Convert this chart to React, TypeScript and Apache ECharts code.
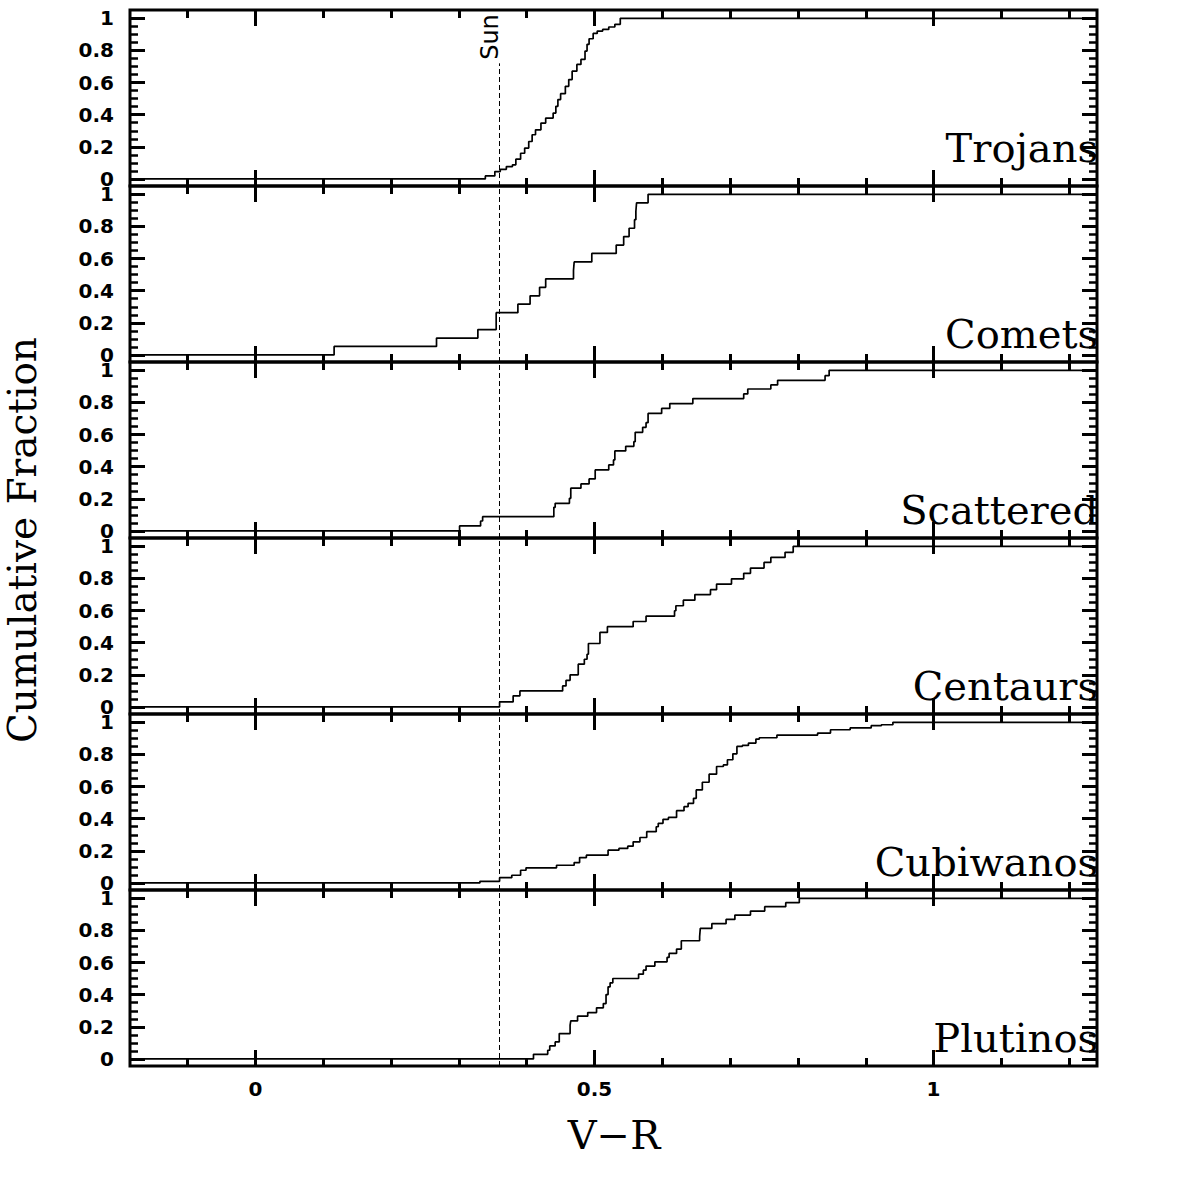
import { useEffect, useRef } from 'react';
import * as echarts from 'echarts';

// axis extents (V-R on x, cumulative fraction on y)
const X_MIN = -0.185;
const X_MAX = 1.241;
const Y_MIN = -0.044;
const Y_MAX = 1.052;

// solar colour and the top of its marker in the first panel
const SUN_VR = 0.36;
const SUN_LINE_TOP = 0.72;

const X_MAJOR = [0, 0.5, 1];
const X_MINOR = [-0.1, 0.1, 0.2, 0.3, 0.4, 0.6, 0.7, 0.8, 0.9, 1.1, 1.2];
const Y_MAJOR = [0, 0.2, 0.4, 0.6, 0.8, 1];
const Y_MINOR = [0.05, 0.1, 0.15, 0.25, 0.3, 0.35, 0.45, 0.5, 0.55, 0.65, 0.7, 0.75, 0.85, 0.9, 0.95];

const PANEL_NAMES = ['Trojans', 'Comets', 'Scattered', 'Centaurs', 'Cubiwanos', 'Plutinos'];

// step positions (V-R) and the cumulative fraction reached at each one
const TROJANS_VR = [0.339, 0.353, 0.361, 0.37, 0.379, 0.384, 0.391, 0.397, 0.403, 0.408, 0.413, 0.421, 0.428, 0.439, 0.443, 0.446, 0.45, 0.457, 0.462, 0.467, 0.474, 0.48, 0.486, 0.489, 0.492, 0.498, 0.504, 0.512, 0.521, 0.53, 0.538];
const TROJANS_CF = [0.019, 0.046, 0.06, 0.077, 0.088, 0.123, 0.16, 0.192, 0.233, 0.275, 0.306, 0.348, 0.379, 0.41, 0.452, 0.494, 0.531, 0.577, 0.619, 0.671, 0.713, 0.744, 0.796, 0.838, 0.873, 0.906, 0.921, 0.931, 0.946, 0.963, 1.0];

const COMETS_VR = [0.116, 0.267, 0.328, 0.355, 0.387, 0.405, 0.419, 0.428, 0.469, 0.47, 0.496, 0.532, 0.543, 0.551, 0.559, 0.561, 0.562, 0.579];
const COMETS_CF = [0.053, 0.105, 0.158, 0.263, 0.316, 0.368, 0.421, 0.474, 0.526, 0.579, 0.632, 0.684, 0.737, 0.789, 0.842, 0.895, 0.947, 1.0];

const SCATTERED_VR = [0.301, 0.332, 0.335, 0.44, 0.442, 0.463, 0.465, 0.48, 0.492, 0.501, 0.521, 0.528, 0.53, 0.546, 0.558, 0.56, 0.571, 0.576, 0.579, 0.599, 0.611, 0.645, 0.72, 0.726, 0.76, 0.77, 0.84, 0.846];
const SCATTERED_CF = [0.031, 0.062, 0.089, 0.147, 0.172, 0.203, 0.266, 0.293, 0.324, 0.38, 0.411, 0.442, 0.498, 0.527, 0.556, 0.614, 0.645, 0.674, 0.732, 0.763, 0.793, 0.824, 0.853, 0.884, 0.909, 0.938, 0.967, 1.0];

const CENTAURS_VR = [0.36, 0.38, 0.39, 0.453, 0.458, 0.464, 0.476, 0.485, 0.489, 0.491, 0.508, 0.519, 0.557, 0.576, 0.618, 0.62, 0.631, 0.648, 0.671, 0.68, 0.702, 0.72, 0.73, 0.75, 0.76, 0.781, 0.793];
const CENTAURS_CF = [0.031, 0.069, 0.1, 0.131, 0.166, 0.2, 0.266, 0.297, 0.328, 0.395, 0.464, 0.5, 0.532, 0.565, 0.599, 0.63, 0.665, 0.7, 0.73, 0.765, 0.798, 0.832, 0.865, 0.9, 0.931, 0.963, 1.0];

const CUBIWANOS_VR = [0.331, 0.36, 0.378, 0.391, 0.399, 0.444, 0.47, 0.478, 0.488, 0.52, 0.536, 0.549, 0.557, 0.567, 0.577, 0.591, 0.594, 0.601, 0.609, 0.621, 0.632, 0.638, 0.646, 0.65, 0.659, 0.669, 0.68, 0.69, 0.696, 0.704, 0.71, 0.718, 0.727, 0.738, 0.743, 0.769, 0.829, 0.848, 0.877, 0.908, 0.923, 0.94];
const CUBIWANOS_CF = [0.01, 0.033, 0.048, 0.079, 0.094, 0.11, 0.127, 0.158, 0.173, 0.204, 0.215, 0.229, 0.256, 0.283, 0.319, 0.35, 0.371, 0.396, 0.408, 0.45, 0.475, 0.496, 0.527, 0.579, 0.627, 0.677, 0.725, 0.735, 0.767, 0.804, 0.85, 0.856, 0.871, 0.896, 0.904, 0.921, 0.933, 0.954, 0.965, 0.979, 0.985, 1.0];

const PLUTINOS_VR = [0.41, 0.431, 0.434, 0.442, 0.448, 0.464, 0.465, 0.475, 0.49, 0.503, 0.513, 0.517, 0.52, 0.523, 0.527, 0.565, 0.572, 0.576, 0.589, 0.607, 0.61, 0.621, 0.628, 0.655, 0.656, 0.673, 0.694, 0.707, 0.73, 0.751, 0.782, 0.802];
const PLUTINOS_CF = [0.029, 0.054, 0.081, 0.106, 0.158, 0.21, 0.237, 0.266, 0.289, 0.318, 0.345, 0.401, 0.449, 0.474, 0.501, 0.528, 0.553, 0.578, 0.605, 0.632, 0.657, 0.684, 0.736, 0.761, 0.813, 0.842, 0.869, 0.896, 0.921, 0.948, 0.973, 1.0];

const PANEL_VR = [TROJANS_VR, COMETS_VR, SCATTERED_VR, CENTAURS_VR, CUBIWANOS_VR, PLUTINOS_VR];
const PANEL_CF = [TROJANS_CF, COMETS_CF, SCATTERED_CF, CENTAURS_CF, CUBIWANOS_CF, PLUTINOS_CF];

const LEFT = 130;
const WIDTH = 967;
const TOP = 10;
const PANEL_H = 176;
const SERIF = '"DejaVu Serif", serif';
const SANS = '"DejaVu Sans", sans-serif';

const tickLabel = {
  show: true,
  margin: 16,
  color: '#000',
  fontFamily: SANS,
  fontWeight: 'bold',
  fontSize: 20,
  lineHeight: 14,
};

function xAxisFor(grid: number, position: 'top' | 'bottom', values: number[], length: number, width: number, showLabel: boolean) {
  return {
    type: 'value',
    gridIndex: grid,
    position,
    min: X_MIN,
    max: X_MAX,
    axisLine: { show: false, onZero: false },
    axisTick: { show: true, inside: true, length, customValues: values, lineStyle: { color: '#000', width } },
    axisLabel: showLabel ? { ...tickLabel, customValues: values } : { show: false },
    splitLine: { show: false },
  };
}

function yAxisFor(grid: number, position: 'left' | 'right', values: number[], length: number, width: number, showLabel: boolean) {
  return {
    type: 'value',
    gridIndex: grid,
    position,
    min: Y_MIN,
    max: Y_MAX,
    axisLine: { show: false, onZero: false },
    axisTick: { show: true, inside: true, length, customValues: values, lineStyle: { color: '#000', width } },
    axisLabel: showLabel ? { ...tickLabel, customValues: values } : { show: false },
    splitLine: { show: false },
  };
}

export default function App() {
  const ref = useRef<HTMLDivElement>(null);

  useEffect(() => {
    document.body.style.margin = '0';
    if (!ref.current) return;
    const chart = echarts.init(ref.current, undefined, { renderer: 'svg' });

    const grids: any[] = [];
    const xAxes: any[] = [];
    const yAxes: any[] = [];
    const series: any[] = [];
    const last = PANEL_NAMES.length - 1;

    PANEL_NAMES.forEach((name, i) => {
      grids.push({
        left: LEFT,
        top: TOP + i * PANEL_H,
        width: WIDTH,
        height: PANEL_H,
        show: true,
        borderColor: '#000',
        borderWidth: 3,
        backgroundColor: 'transparent',
        outerBoundsMode: 'none',
      });
      xAxes.push(
        xAxisFor(i, 'bottom', X_MAJOR, 16, 3, i === last),
        xAxisFor(i, 'bottom', X_MINOR, 8, 3, false),
        xAxisFor(i, 'top', X_MAJOR, 16, 3, false),
        xAxisFor(i, 'top', X_MINOR, 8, 3, false),
      );
      yAxes.push(
        yAxisFor(i, 'left', Y_MAJOR, 15, 3, true),
        yAxisFor(i, 'left', Y_MINOR, 8, 2.5, false),
        yAxisFor(i, 'right', Y_MAJOR, 15, 3, false),
        yAxisFor(i, 'right', Y_MINOR, 8, 2.5, false),
      );

      const vr = PANEL_VR[i];
      const cf = PANEL_CF[i];
      const data = [[X_MIN, 0], ...vr.map((v, k) => [v, cf[k]]), [X_MAX, 1]];

      series.push({
        name,
        type: 'line',
        xAxisIndex: i * 4,
        yAxisIndex: i * 4,
        step: 'end',
        symbol: 'none',
        showSymbol: false,
        data,
        lineStyle: { color: '#000', width: 1.7 },
        markLine: {
          silent: true,
          symbol: 'none',
          label: { show: false },
          lineStyle: { color: '#000', width: 1, type: [5, 3] },
          data:
            i === 0
              ? [[{ coord: [SUN_VR, Y_MIN] }, { coord: [SUN_VR, SUN_LINE_TOP] }]]
              : [{ xAxis: SUN_VR }],
        },
      });
    });

    const graphic: any[] = [
      {
        type: 'text',
        x: 22,
        y: 540,
        rotation: Math.PI / 2,
        style: { text: 'Cumulative Fraction', fontFamily: SERIF, fontSize: 39, lineHeight: 34, fill: '#000', align: 'center', verticalAlign: 'middle' },
      },
      {
        type: 'text',
        x: 614,
        y: 1135,
        style: { text: 'V\u2212R', fontFamily: SERIF, fontSize: 40, fill: '#000', align: 'center', verticalAlign: 'middle' },
      },
      {
        type: 'text',
        x: 490,
        y: 37,
        rotation: Math.PI / 2,
        style: { text: 'Sun', fontFamily: SANS, fontSize: 24, fill: '#000', align: 'center', verticalAlign: 'middle' },
      },
      ...PANEL_NAMES.map((name, i) => ({
        type: 'text',
        x: LEFT + WIDTH + 1,
        y: TOP + (i + 1) * PANEL_H - (i === 0 ? 38 : 28),
        style: { text: name, fontFamily: SERIF, fontSize: 40, fill: '#000', align: 'right', verticalAlign: 'middle' },
      })),
    ];

    chart.setOption({
      animation: false,
      backgroundColor: '#fff',
      grid: grids,
      xAxis: xAxes,
      yAxis: yAxes,
      series,
      graphic,
    });

    return () => chart.dispose();
  }, []);

  return <div ref={ref} style={{ width: 1196, height: 1196 }} />;
}
